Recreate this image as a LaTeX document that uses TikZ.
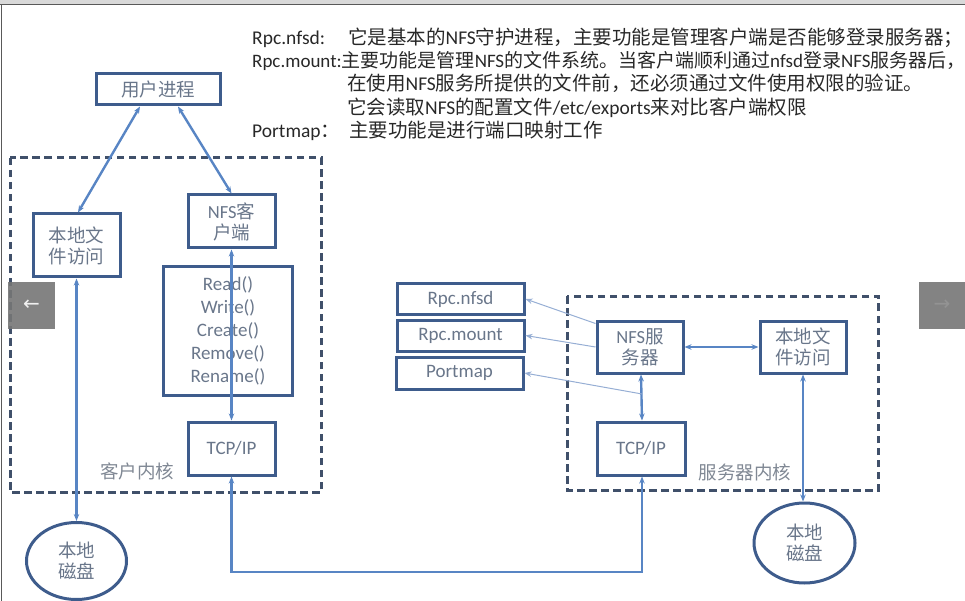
\documentclass[tikz,border=0pt]{standalone}
\usepackage{fontspec}
\setmainfont{Carlito}
\newfontfamily\cjk{Noto Sans CJK SC}
\newfontfamily\sym{DejaVu Sans}
\usetikzlibrary{arrows.meta, positioning, shapes.geometric}

\definecolor{boxc}{RGB}{62,92,140}
\definecolor{arrc}{RGB}{88,133,196}
\definecolor{thinc}{RGB}{150,174,212}
\definecolor{dashc}{RGB}{64,80,106}
\definecolor{txtc}{RGB}{105,118,138}
\definecolor{lblc}{RGB}{128,136,148}
\definecolor{topc}{RGB}{40,40,40}
\definecolor{navc}{RGB}{118,118,118}
\newcommand{\zh}[1]{{\cjk #1}}

\begin{document}
\begin{tikzpicture}[x=1pt, y=-1pt,
    >={Stealth[length=7pt,width=5.5pt]},
    box/.style={draw=boxc, line width=3pt, inner sep=0pt, text=txtc, align=center,
        font=\fontsize{18.5}{21}\selectfont},
    disk/.style={box, ellipse},
    note/.style={inner sep=0pt, text=topc, font=\fontsize{19.5}{23}\selectfont},
    kernel/.style={draw=dashc, line width=3pt, dash pattern=on 7.5pt off 4.5pt},
    klabel/.style={inner sep=0pt, text=lblc, font=\cjk\fontsize{18.5}{21}\selectfont},
    link/.style={draw=arrc, line width=2.4pt, <->},
    tlink/.style={draw=thinc, line width=1pt, ->},
    nav/.style={fill=navc, fill opacity=0.9, text opacity=1, minimum size=47pt, inner sep=0pt,
        font=\sym\fontsize{20}{20}\selectfont}]
    \useasboundingbox (0,0) rectangle (965,601);

    % page frame
    \fill[gray!30] (0,0) rectangle (965,4);
    \draw[gray!70!black, line width=1pt] (0,5) -- (965,5);
    \draw[gray!70!black, line width=1pt] (1.5,5) -- (1.5,601);

    % notes
    \node[note, anchor=base west] (n1) at (252,45) {\makebox[96pt][l]{Rpc.nfsd:}\zh{它是基本的}NFS\zh{守护进程，主要功能是管理客户端是否能够登录服务器；}};
    \node[note, anchor=base west, font=\fontsize{19}{23}\selectfont] (n2) at (252,68) {Rpc.mount:\zh{主要功能是管理}NFS\zh{的文件系统。当客户端顺利通过}nfsd\zh{登录}NFS\zh{服务器后，}};
    \node[note, anchor=base west] (n3) at (347,91) {\zh{在使用}NFS\zh{服务所提供的文件前，还必须通过文件使用权限的验证。}};
    \node[note, anchor=base west] (n4) at (347,114.5) {\zh{它会读取}NFS\zh{的配置文件}/etc/exports\zh{来对比客户端权限}};
    \node[note, anchor=base west] (n5) at (252,138) {\makebox[97pt][l]{Portmap\zh{：}}\zh{主要功能是进行端口映射工作}};

    % client side
    \node[box, minimum width=124pt, minimum height=31pt] (user) at (158,89.5) {\zh{用户进程}};
    \draw[kernel] (10,158) rectangle (321,492);
    \node[klabel] (kc) at (137,471) {客户内核};
    \node[box, minimum width=87pt, minimum height=63pt] (lfc) at (76.5,245.5) {\zh{本地文}\\\zh{件访问}};
    \node[box, minimum width=87pt, minimum height=53pt] (nfsc) at (231.5,221.5) {NFS\zh{客}\\\zh{户端}};
    \node[box, minimum width=129pt, minimum height=128pt, font=\fontsize{19}{23}\selectfont] (ops) at (228,331) {Read()\\Write()\\Create()\\Remove()\\Rename()};
    \node[box, minimum width=87pt, minimum height=53pt, font=\fontsize{19}{23}\selectfont] (tcpc) at (231.5,448.5) {TCP/IP};
    \node[disk, minimum width=100pt, minimum height=77pt] (diskc) at (76.5,561) {\zh{本地}\\\zh{磁盘}};

    % server side
    \draw[kernel] (567,296) rectangle (878,490);
    \node[klabel] (ks) at (745,472) {服务器内核};
    \node[box, minimum width=127pt, minimum height=31pt, font=\fontsize{19}{23}\selectfont] (nfsd) at (460.5,299) {Rpc.nfsd};
    \node[box, minimum width=127pt, minimum height=31pt, font=\fontsize{19}{23}\selectfont] (mount) at (460.5,335.5) {Rpc.mount};
    \node[box, minimum width=127pt, minimum height=32pt, font=\fontsize{19}{23}\selectfont] (pmap) at (459.5,373) {Portmap};
    \node[box, minimum width=86pt, minimum height=52pt] (nfss) at (640,347) {NFS\zh{服}\\\zh{务器}};
    \node[box, minimum width=86pt, minimum height=52pt] (lfs) at (803,347) {\zh{本地文}\\\zh{件访问}};
    \node[box, minimum width=88pt, minimum height=53pt, font=\fontsize{19}{23}\selectfont] (tcps) at (641,448.5) {TCP/IP};
    \node[disk, minimum width=101pt, minimum height=80pt] (disks) at (804.5,543) {\zh{本地}\\\zh{磁盘}};

    % slide buttons
    \node[nav, text=white!88!gray] (prev) at (31.5,305) {←};
    \node[nav, text=gray!85] (next) at (942,305.5) {→};

    % connectors
    \draw[link] ([xshift=-18pt]user.south) -- ([xshift=1.5pt]lfc.north);
    \draw[link] ([xshift=20pt]user.south) -- (nfsc.north);
    \draw[link] (nfsc.south) -- (tcpc.north);
    \draw[link] (lfc.south) -- (diskc.north);
    \coordinate (bus) at (0,572);
    \draw[link] (tcpc.south) -- (tcpc.south |- bus) -- ([xshift=1pt]tcps.south |- bus) -- ([xshift=1pt]tcps.south);
    \draw[link] ([xshift=1pt]nfss.south) -- ([xshift=1pt]tcps.north);
    \draw[link] (nfss.east) -- (lfs.west);
    \draw[link] (lfs.south) -- (lfs.south |- disks.north);
    \coordinate (tap) at (642,394);
    \draw[tlink] ([yshift=-4pt]nfss.north west) -- (nfsd.east);
    \draw[tlink] (nfss.west) -- (mount.east);
    \draw[tlink] (tap) -- (pmap.east);
\end{tikzpicture}
\end{document}
